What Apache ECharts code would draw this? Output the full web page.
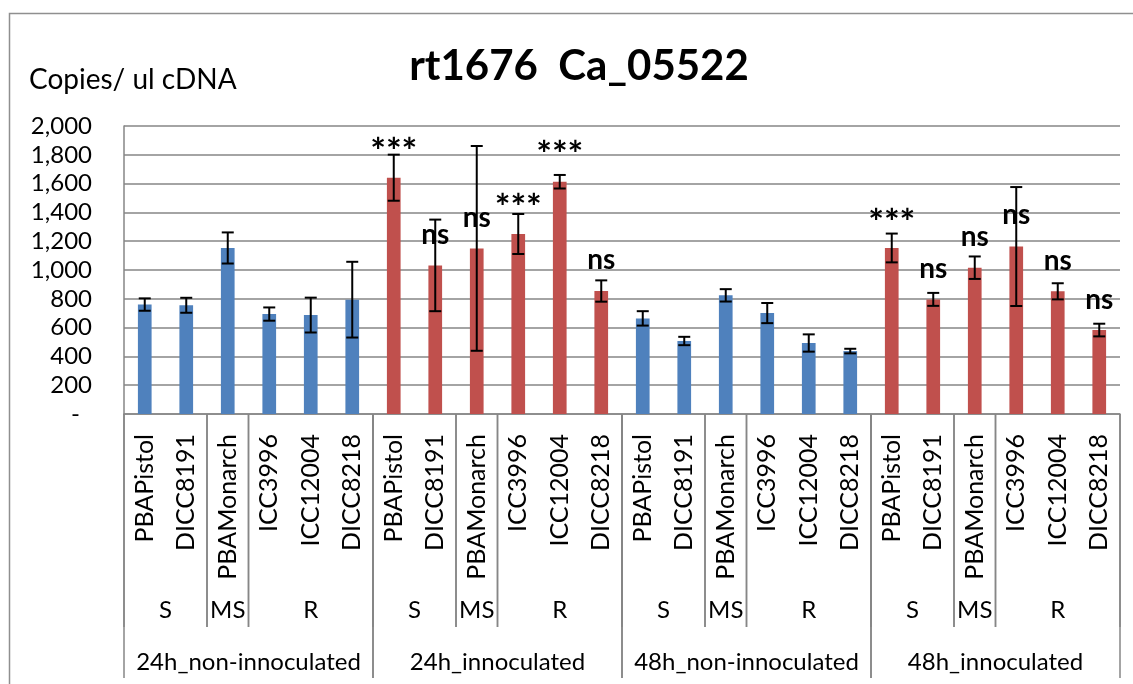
<!DOCTYPE html>
<html>
<head>
<meta charset="utf-8">
<script src="https://cdn.jsdelivr.net/npm/echarts@6/dist/echarts.min.js"></script>
<style>html,body{margin:0;padding:0;background:#fff;}#c{width:1133px;height:684px;}</style>
</head>
<body>
<div id="c"></div>
<script>
// ---- data ----
const cultivars = ['PBAPistol', 'DICC8191', 'PBAMonarch', 'ICC3996', 'ICC12004', 'DICC8218'];
const resistance = ['S', 'S', 'MS', 'R', 'R', 'R'];
const treatments = ['24h_non-innoculated', '24h_innoculated', '48h_non-innoculated', '48h_innoculated'];
const inoculated = [false, true, false, true];
const means = [
  760, 755, 1153, 694, 687, 794,
  1641, 1032, 1150, 1250, 1613, 854,
  664, 507, 824, 701, 493, 437,
  1153, 796, 1016, 1163, 852, 583
];
const errors = [
  43, 52, 108, 46, 121, 263,
  160, 318, 711, 139, 47, 74,
  50, 29, 43, 70, 60, 16,
  100, 45, 78, 413, 56, 44
];
const sigLabels = [
  '', '', '', '', '', '',
  '***', 'ns', 'ns', '***', '***', 'ns',
  '', '', '', '', '', '',
  '***', 'ns', 'ns', 'ns', 'ns', 'ns'
];
const sigLabelAt = [
  0, 0, 0, 0, 0, 0,
  1891, 1231, 1347, 1500, 1868, 1058,
  0, 0, 0, 0, 0, 0,
  1396, 993, 1215, 1368, 1049, 780
];
const yTicks = { min: 0, max: 2000, interval: 200 };

// ---- derived ----
const categories = [];
treatments.forEach(() => cultivars.forEach(c => categories.push(c)));
const nPer = cultivars.length;

// group rows: [start, end, level], with labels
const groupRows = [];
const groupText = [];
treatments.forEach((t, ti) => {
  let s = 0;
  for (let i = 1; i <= nPer; i++) {
    if (i === nPer || resistance[i] !== resistance[s]) {
      groupRows.push([ti * nPer + s, ti * nPer + i - 1, 1]);
      groupText.push(resistance[s]);
      s = i;
    }
  }
  groupRows.push([ti * nPer, ti * nPer + nPer - 1, 2]);
  groupText.push(t);
});

const barData = means.map((v, i) => ({
  value: v,
  itemStyle: { color: inoculated[Math.floor(i / nPer)] ? '#C0504D' : '#4F81BD' }
}));
const errData = means.map((v, i) => [i, v - errors[i], v + errors[i]]);
const sigData = [];
const sigText = [];
sigLabels.forEach((s, i) => { if (s) { sigData.push([i, sigLabelAt[i]]); sigText.push(s); } });

const FONT = 'Lato';
const GRAY = '#868686';

const chart = echarts.init(document.getElementById('c'), null, { renderer: 'canvas' });
chart.setOption({
  animation: false,
  backgroundColor: '#fff',
  title: [
    {
      text: 'rt1676  Ca_05522', left: 579, top: 66, textAlign: 'center', textVerticalAlign: 'middle', padding: 0,
      textStyle: { fontFamily: FONT, fontWeight: 'bold', fontSize: 42, color: '#000' }
    },
    {
      text: 'Copies/ ul cDNA', left: 29, top: 80, textVerticalAlign: 'middle', padding: 0,
      textStyle: { fontFamily: FONT, fontWeight: 'normal', fontSize: 28, color: '#000' }
    }
  ],
  graphic: [{
    type: 'rect', shape: { x: 9.5, y: 13.5, width: 1300, height: 900 },
    style: { fill: 'none', stroke: '#8f8f8f', lineWidth: 1.5 }, silent: true
  }],
  grid: { left: 124, right: 13, top: 126, bottom: 270 },
  xAxis: {
    type: 'category', data: categories,
    axisLine: { show: true, lineStyle: { color: GRAY, width: 1.5 } },
    axisTick: { show: false },
    axisLabel: { rotate: 90, interval: 0, margin: 20, fontFamily: FONT, fontSize: 25, color: '#000' }
  },
  yAxis: {
    type: 'value', min: yTicks.min, max: yTicks.max, interval: yTicks.interval,
    axisLine: { show: true, lineStyle: { color: GRAY, width: 1.5 } },
    axisTick: { show: false },
    splitLine: { show: true, lineStyle: { color: GRAY, width: 1.5 } },
    axisLabel: {
      margin: 32, fontFamily: FONT, fontSize: 24, color: '#000',
      formatter: v => v === 0 ? '{d|-}' : v.toLocaleString('en-US'),
      rich: { d: { fontFamily: FONT, fontSize: 24, color: '#000', padding: [0, 12, 0, 0] } }
    }
  },
  series: [
    {
      type: 'bar', data: barData, barWidth: '33%', z: 2
    },
    {
      type: 'custom', data: errData, encode: { x: 0, y: [1, 2] }, z: 3,
      renderItem: (params, api) => {
        const i = api.value(0);
        const lo = api.coord([i, api.value(1)]);
        const hi = api.coord([i, api.value(2)]);
        const w = 6;
        const st = { stroke: '#000', lineWidth: 2 };
        return {
          type: 'group', children: [
            { type: 'line', shape: { x1: lo[0], y1: lo[1], x2: hi[0], y2: hi[1] }, style: st },
            { type: 'line', shape: { x1: hi[0] - w, y1: hi[1], x2: hi[0] + w, y2: hi[1] }, style: st },
            { type: 'line', shape: { x1: lo[0] - w, y1: lo[1], x2: lo[0] + w, y2: lo[1] }, style: st }
          ]
        };
      }
    },
    {
      type: 'custom', data: sigData, encode: { x: 0, y: 1 }, z: 4,
      renderItem: (params, api) => {
        const p = api.coord([api.value(0), api.value(1)]);
        const t = sigText[params.dataIndex];
        const star = t === '***';
        return {
          type: 'text',
          style: {
            text: t, x: p[0], y: p[1] + (star ? 10 : -2), align: 'center', verticalAlign: 'middle',
            fill: '#000', fontFamily: FONT, fontWeight: 'bold', fontSize: star ? 37 : 28
          }
        };
      }
    },
    {
      type: 'custom', data: groupRows, encode: { x: [0, 1] }, z: 1, clip: false, silent: true,
      renderItem: (params, api) => {
        const s = api.value(0), e = api.value(1), lvl = api.value(2);
        const bw = api.size([1, 0])[0];
        const a = api.coord([s, 0]);
        const b = api.coord([e, 0]);
        const xL = a[0] - bw / 2, xR = b[0] + bw / 2, y0 = a[1];
        const yEnd = lvl === 1 ? y0 + 213 : y0 + 264;
        const yText = lvl === 1 ? y0 + 196 : y0 + 248;
        const st = { stroke: GRAY, lineWidth: 1.5 };
        return {
          type: 'group', children: [
            { type: 'line', shape: { x1: xL, y1: y0, x2: xL, y2: yEnd }, style: st },
            { type: 'line', shape: { x1: xR, y1: y0, x2: xR, y2: yEnd }, style: st },
            {
              type: 'text', style: {
                text: groupText[params.dataIndex], x: (xL + xR) / 2, y: yText,
                align: 'center', verticalAlign: 'middle', fill: '#000', fontFamily: FONT, fontSize: 24
              }
            }
          ]
        };
      }
    }
  ]
});
</script>
</body>
</html>
